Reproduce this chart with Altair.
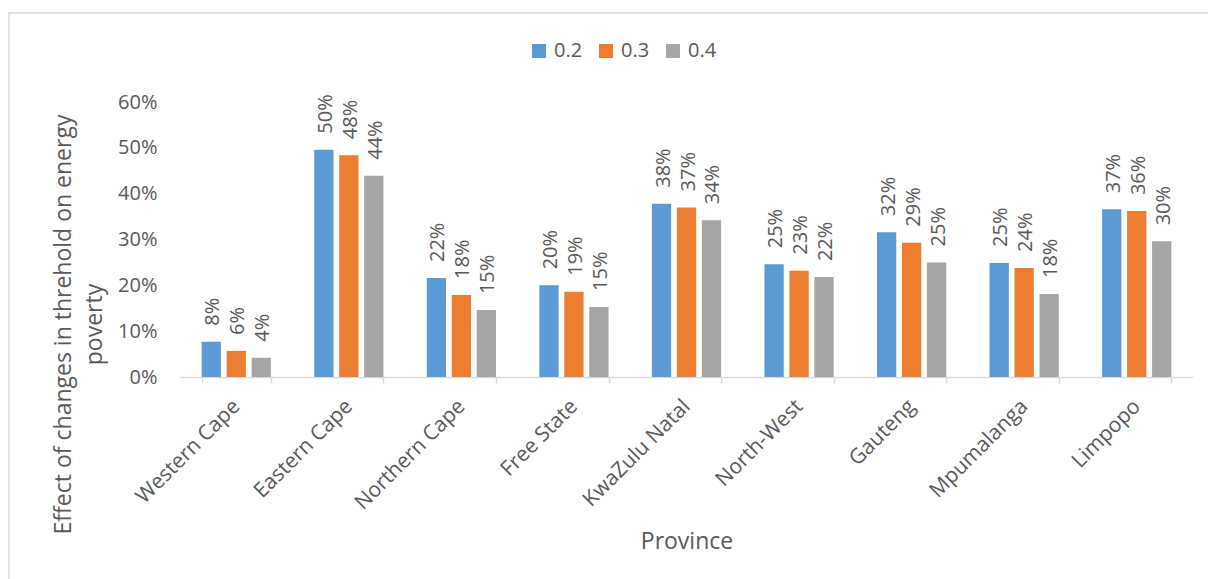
import altair as alt
import pandas as pd

# Provinces on the x axis, in display order
provinces = [
    "Western Cape", "Eastern Cape", "Northern Cape", "Free State",
    "KwaZulu Natal", "North-West", "Gauteng", "Mpumalanga", "Limpopo",
]

# Threshold series (legend entries) and their colours
series = ["0.2", "0.3", "0.4"]
series_colors = ["#5B9BD5", "#ED7D31", "#A5A5A5"]

# Share of households in energy poverty for each threshold
values_02 = [0.077, 0.496, 0.216, 0.200, 0.378, 0.246, 0.316, 0.249, 0.366]
values_03 = [0.057, 0.484, 0.179, 0.186, 0.370, 0.232, 0.293, 0.238, 0.362]
values_04 = [0.042, 0.439, 0.146, 0.153, 0.342, 0.218, 0.250, 0.181, 0.296]

y_ticks = [0.0, 0.1, 0.2, 0.3, 0.4, 0.5, 0.6]

rows = []
for name, vals in zip(series, [values_02, values_03, values_04]):
    for prov, v in zip(provinces, vals):
        rows.append({"Province": prov, "Threshold": name, "Value": v})
df = pd.DataFrame(rows)

FONT = "Open Sans"
TEXT = "#595959"
LINE = "#D9D9D9"

x_enc = alt.X(
    "Province:N",
    sort=provinces,
    scale=alt.Scale(paddingInner=0.385, paddingOuter=0.1925),
    axis=alt.Axis(
        title="Province",
        labelAngle=315,
        labelAlign="right",
        labelBaseline="middle",
        labelPadding=20,
        labelFontSize=21,
        labelFont=FONT,
        labelColor=TEXT,
        domainColor=LINE,
        domainWidth=1.5,
        tickColor=LINE,
        tickWidth=1.5,
        tickSize=6,
        tickBand="extent",
        titleFont=FONT,
        titleFontSize=23,
        titleFontWeight="normal",
        titleColor=TEXT,
        titleY=171,
        titleBaseline="alphabetic",
    ),
)
xo_enc = alt.XOffset(
    "Threshold:N", sort=series,
    scale=alt.Scale(paddingInner=0.228, paddingOuter=0),
)
y_enc = alt.Y(
    "Value:Q",
    scale=alt.Scale(domain=[0, 0.6]),
    axis=alt.Axis(
        values=y_ticks,
        format=".0%",
        domain=False,
        ticks=False,
        grid=False,
        labelPadding=23,
        labelFontSize=20,
        labelFont=FONT,
        labelColor=TEXT,
        title=["Effect of changes in threhold on energy", "poverty"],
        titleAngle=270,
        titleX=-110,
        titleY=222,
        titleAlign="center",
        titleBaseline="alphabetic",
        titleLineHeight=31,
        titleFont=FONT,
        titleFontSize=23,
        titleFontWeight="normal",
        titleColor=TEXT,
    ),
)

base = alt.Chart(df)

bars = base.mark_bar().encode(
    x=x_enc,
    xOffset=xo_enc,
    y=y_enc,
    color=alt.Color(
        "Threshold:N",
        sort=series,
        scale=alt.Scale(domain=series, range=series_colors),
        legend=alt.Legend(
            title=None,
            orient="none",
            direction="horizontal",
            legendX=349,
            legendY=-61,
            symbolType="square",
            symbolSize=196,
            symbolStrokeWidth=0,
            labelFont=FONT,
            labelFontSize=20,
            labelColor=TEXT,
            labelOffset=5,
            columnPadding=13,
            padding=0,
        ),
    ),
)

labels = base.mark_text(
    angle=270, align="left", baseline="middle", dx=16, dy=2,
    font=FONT, fontSize=20, color=TEXT,
).encode(
    x=alt.X("Province:N", sort=provinces),
    xOffset=alt.XOffset("Threshold:N", sort=series),
    y=alt.Y("Value:Q"),
    text=alt.Text("Value:Q", format=".0%"),
)

# Light outer frame around the whole figure
frame = alt.Chart(pd.DataFrame({"k": [0]})).mark_rect(
    filled=False, stroke=LINE, strokeWidth=1.5
).encode(
    x=alt.value(-171), x2=alt.value(1040),
    y=alt.value(-89), y2=alt.value(520),
)

chart = alt.layer(frame, bars, labels).properties(
    width=1013,
    height=275,
    padding={"left": 180, "top": 102, "right": 15, "bottom": 202},
    autosize=alt.AutoSizeParams(type="none"),
    background="white",
).configure_view(stroke=None)

chart.save("out.html", embed_options={"renderer": "svg", "actions": False})
